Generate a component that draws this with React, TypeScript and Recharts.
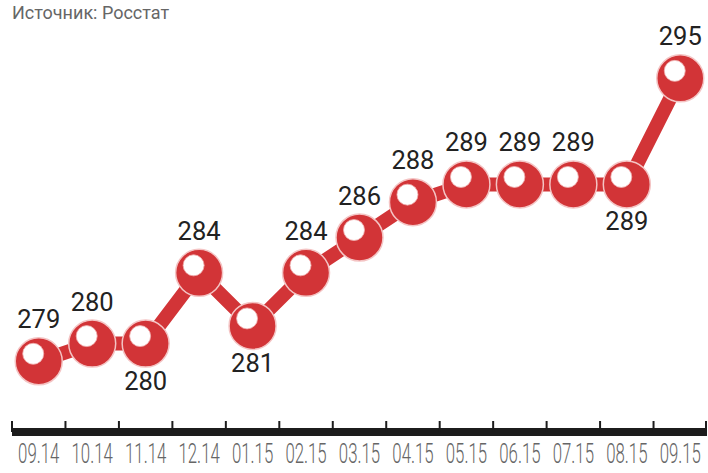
import { LineChart, Line, XAxis, YAxis, LabelList } from 'recharts'

const MONTHS = ['09.14', '10.14', '11.14', '12.14', '01.15', '02.15', '03.15', '04.15', '05.15', '06.15', '07.15', '08.15', '09.15']
const SALARY = [279, 280, 280, 284, 281, 284, 286, 288, 289, 289, 289, 289, 295]
const LABEL_BELOW = ['11.14', '01.15', '08.15']

const data = MONTHS.map((m, i) => ({ month: m, value: SALARY[i] }))

const W = 708
const H = 473
const LEFT = 12
const RIGHT = 1
const AXIS_H = 41
const PLOT_BOTTOM = H - AXIS_H
const HALF = (W - LEFT - RIGHT) / MONTHS.length / 2

const RED = '#d23437'

const Ball = (props: any) => {
  const { cx, cy, index } = props
  if (cx == null || cy == null) return null
  return (
    <g key={`ball-${index}`}>
      <circle cx={cx} cy={cy} r={23.5} fill={RED} stroke="#f4c4c4" strokeWidth={1.5} />
      <circle cx={cx - 5.5} cy={cy - 7.5} r={10.5} fill="#fff" stroke="#f0b0b0" strokeWidth={0.8} />
    </g>
  )
}

const ValueLabel = (props: any) => {
  const { x, y, value, index } = props
  const below = LABEL_BELOW.includes(MONTHS[index])
  return (
    <text
      x={x}
      y={below ? y + 46 : y - 33}
      textAnchor="middle"
      fontFamily="Roboto, 'Noto Sans', sans-serif"
      fontWeight={400}
      fontSize={25.5}
      fill="#222"
    >
      {value}
    </text>
  )
}

const MonthTick = (props: any) => {
  const { x, payload, index } = props
  const last = index === MONTHS.length - 1
  return (
    <g>
      <line x1={x - HALF} x2={x - HALF} y1={421} y2={PLOT_BOTTOM} stroke="#1c1c1c" strokeWidth={2} />
      {last && <line x1={x + HALF - 1} x2={x + HALF - 1} y1={421} y2={PLOT_BOTTOM} stroke="#1c1c1c" strokeWidth={2} />}
      <text
        transform={`translate(${x} 463) scale(0.6 1)`}
        textAnchor="middle"
        fontFamily="Roboto, 'Noto Sans', sans-serif"
        fontWeight={300}
        fontSize={28}
        fill="#666"
      >
        {payload.value}
      </text>
    </g>
  )
}

export default function App() {
  return (
    <div style={{ position: 'absolute', left: 0, top: 0, width: W, height: H, background: '#fff' }}>
      <div
        style={{
          position: 'absolute', left: 12, top: 2, fontFamily: 'Roboto, sans-serif',
          fontSize: 18, color: '#666', whiteSpace: 'nowrap',
        }}
      >
        Источник: Росстат
      </div>
      <LineChart width={W} height={H} data={data} margin={{ top: 43, right: RIGHT, bottom: 0, left: LEFT }}>
        <XAxis
          dataKey="month"
          height={AXIS_H}
          padding={{ left: HALF, right: HALF }}
          axisLine={{ stroke: '#1c1c1c', strokeWidth: 8 }}
          tickLine={false}
          tick={<MonthTick />}
          interval={0}
        />
        <YAxis hide domain={[275, 297]} />
        <Line
          dataKey="value"
          type="linear"
          stroke={RED}
          strokeWidth={14}
          dot={<Ball />}
          activeDot={false}
          isAnimationActive={false}
        >
          <LabelList dataKey="value" content={<ValueLabel />} />
        </Line>
      </LineChart>
    </div>
  )
}
